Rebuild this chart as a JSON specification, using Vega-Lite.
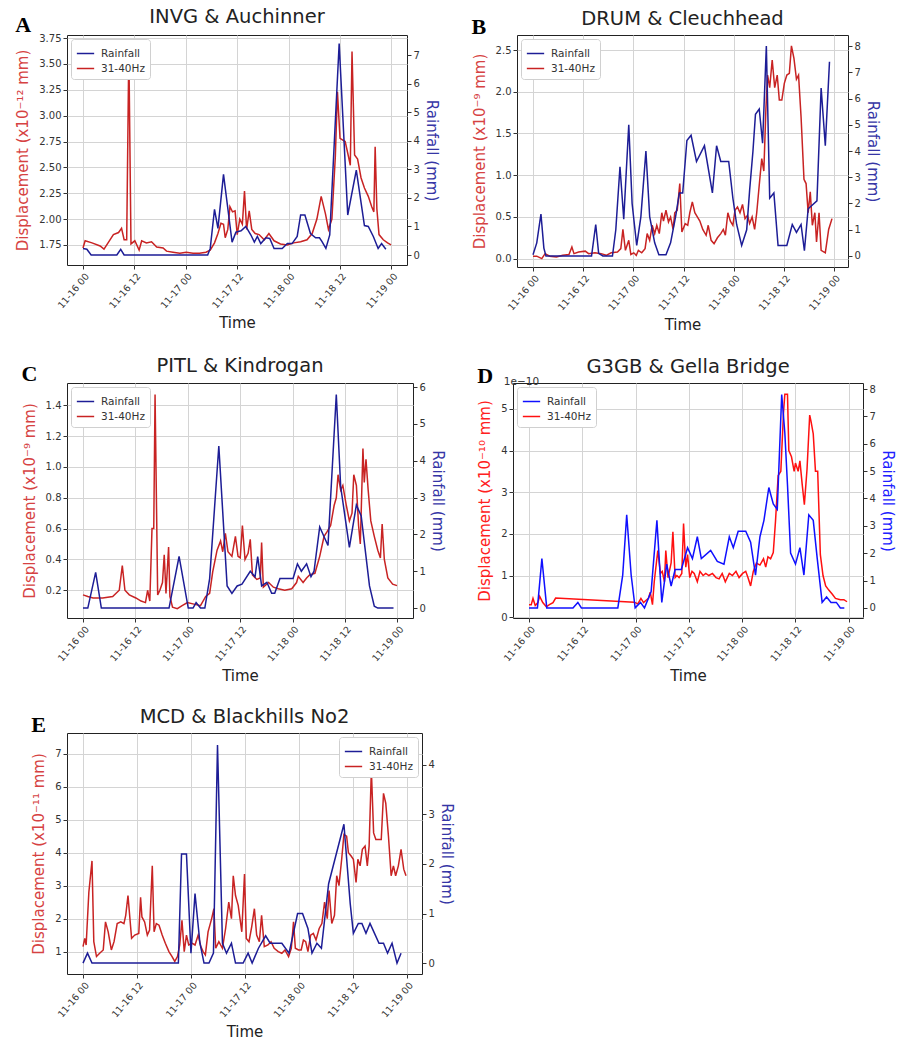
{
"$schema": "https://vega.github.io/schema/vega-lite/v6.json",
"padding": {"left": 15, "top": 6, "right": 4, "bottom": 4},
"background": "white",
"spacing": 21,
"resolve": {"scale": {"color": "independent"}, "legend": {"color": "independent"}},
"config": {
  "font": "DejaVu Sans",
  "view": {"stroke": "#222", "strokeWidth": 1},
  "axis": {"labelFontSize": 10, "labelColor": "#333", "tickColor": "#333", "domain": false, "tickSize": 4, "titleFontSize": 15, "titleFontWeight": "normal", "titleColor": "#222", "gridColor": "#d4d4d4", "labelPadding": 2},
  "axisX": {"labelFontSize": 9.5},
  "title": {"fontSize": 19.5, "fontWeight": "normal", "color": "#222", "offset": 6},
  "legend": {"symbolType": "stroke", "symbolSize": 300, "symbolStrokeWidth": 1.6, "labelFontSize": 10.5, "labelColor": "#333", "strokeColor": "#d0d0d0", "fillColor": "white", "padding": 5, "cornerRadius": 3, "rowPadding": 0, "labelOffset": 6, "offset": 4},
  "line": {"strokeWidth": 1.5}
},
"vconcat": [
{"hconcat": [
 {"title": {"text": "A", "anchor": "start", "frame": "bounds", "font": "Liberation Serif", "fontSize": 22, "fontWeight": "bold", "color": "black", "offset": -31},
  "resolve": {"scale": {"color": "independent"}, "legend": {"color": "independent"}},
  "vconcat": [{
  "width": 340, "height": 230,
  "title": "INVG & Auchinner",
  "encoding": {"x": {"field": "t", "type": "temporal", "scale": {"padding": 16, "nice": false}, "axis": {"title": "Time", "format": "%m-%d %H", "tickCount": 7, "labelAngle": -50, "labelAlign": "right", "labelBaseline": "top", "labelFlush": false, "grid": true, "titlePadding": 6}}},
  "layer": [
   {"data": {"format": {"parse": {"t": "date:'%m-%d %H:%M'"}}, "values": [
{"t":"11-16 00:00","v":1.72},{"t":"11-16 00:30","v":1.79},{"t":"11-16 02:06","v":1.77},{"t":"11-16 04:00","v":1.74},{"t":"11-16 04:54","v":1.71},{"t":"11-16 06:00","v":1.78},{"t":"11-16 07:06","v":1.85},{"t":"11-16 08:18","v":1.87},{"t":"11-16 09:00","v":1.91},{"t":"11-16 09:36","v":1.80},{"t":"11-16 10:12","v":1.80},{"t":"11-16 10:42","v":3.65},{"t":"11-16 11:12","v":1.76},{"t":"11-16 12:06","v":1.79},{"t":"11-16 13:06","v":1.70},{"t":"11-16 13:42","v":1.79},{"t":"11-16 14:48","v":1.77},{"t":"11-16 16:00","v":1.78},{"t":"11-16 17:12","v":1.73},{"t":"11-16 18:42","v":1.72},{"t":"11-16 19:30","v":1.69},{"t":"11-16 21:00","v":1.68},{"t":"11-16 22:36","v":1.67},{"t":"11-17 00:06","v":1.68},{"t":"11-17 01:42","v":1.67},{"t":"11-17 03:12","v":1.67},{"t":"11-17 04:42","v":1.68},{"t":"11-17 05:42","v":1.70},{"t":"11-17 06:42","v":1.77},{"t":"11-17 07:30","v":1.86},{"t":"11-17 08:12","v":1.96},{"t":"11-17 08:48","v":1.95},{"t":"11-17 09:12","v":1.82},{"t":"11-17 09:48","v":1.90},{"t":"11-17 10:18","v":2.12},{"t":"11-17 10:54","v":2.07},{"t":"11-17 11:30","v":2.08},{"t":"11-17 12:00","v":1.85},{"t":"11-17 12:36","v":2.00},{"t":"11-17 13:12","v":1.95},{"t":"11-17 13:42","v":2.27},{"t":"11-17 14:12","v":1.90},{"t":"11-17 14:48","v":2.08},{"t":"11-17 15:24","v":1.90},{"t":"11-17 16:12","v":1.86},{"t":"11-17 17:06","v":1.85},{"t":"11-17 18:18","v":1.80},{"t":"11-17 19:24","v":1.86},{"t":"11-17 20:36","v":1.79},{"t":"11-17 22:06","v":1.76},{"t":"11-17 23:42","v":1.75},{"t":"11-18 01:12","v":1.77},{"t":"11-18 02:48","v":1.78},{"t":"11-18 04:18","v":1.80},{"t":"11-18 05:30","v":1.86},{"t":"11-18 06:36","v":2.00},{"t":"11-18 07:36","v":2.22},{"t":"11-18 08:36","v":2.05},{"t":"11-18 09:18","v":1.90},{"t":"11-18 10:06","v":2.00},{"t":"11-18 10:54","v":2.60},{"t":"11-18 11:24","v":3.23},{"t":"11-18 12:00","v":2.78},{"t":"11-18 13:12","v":2.75},{"t":"11-18 14:00","v":2.60},{"t":"11-18 14:24","v":2.52},{"t":"11-18 14:48","v":3.62},{"t":"11-18 15:24","v":2.62},{"t":"11-18 16:06","v":2.58},{"t":"11-18 16:54","v":2.40},{"t":"11-18 17:42","v":2.30},{"t":"11-18 18:36","v":2.22},{"t":"11-18 19:24","v":2.12},{"t":"11-18 19:54","v":2.07},{"t":"11-18 20:12","v":2.70},{"t":"11-18 20:36","v":2.10},{"t":"11-18 21:06","v":1.85},{"t":"11-18 22:06","v":1.80},{"t":"11-18 23:06","v":1.77},{"t":"11-18 23:54","v":1.75}
    ]},
    "mark": {"type": "line"},
    "encoding": {
     "y": {"field": "v", "type": "quantitative", "scale": {"domain": [1.556, 3.78], "zero": false, "nice": false}, "axis": {"orient": "left", "title": "Displacement (x10⁻¹² mm)", "titleColor": "#d64242", "values": [1.75, 2, 2.25, 2.5, 2.75, 3, 3.25, 3.5, 3.75], "format": ".2f", "grid": true, "titlePadding": 8}},
     "color": {"datum": "31-40Hz", "type": "nominal", "scale": {"domain": ["Rainfall", "31-40Hz"], "range": ["#1d1d96", "#c82323"]}, "legend": {"title": null, "orient": "top-left"}}
    }},
   {"data": {"format": {"parse": {"t": "date:'%m-%d %H:%M'"}}, "values": [
{"t":"11-16 00:00","v":0.23},{"t":"11-16 00:54","v":0.2},{"t":"11-16 01:54","v":0},{"t":"11-16 07:54","v":0},{"t":"11-16 08:48","v":0.2},{"t":"11-16 09:36","v":0},{"t":"11-17 05:06","v":0},{"t":"11-17 05:42","v":0.23},{"t":"11-17 06:42","v":1.6},{"t":"11-17 07:30","v":0.93},{"t":"11-17 08:48","v":2.82},{"t":"11-17 10:00","v":1.4},{"t":"11-17 10:48","v":0.45},{"t":"11-17 11:42","v":0.8},{"t":"11-17 12:54","v":0.85},{"t":"11-17 14:00","v":1.0},{"t":"11-17 15:12","v":0.7},{"t":"11-17 16:00","v":0.45},{"t":"11-17 16:42","v":0.65},{"t":"11-17 17:30","v":0.4},{"t":"11-17 18:42","v":0.6},{"t":"11-17 19:36","v":0.58},{"t":"11-17 20:36","v":0.23},{"t":"11-17 22:30","v":0.23},{"t":"11-17 23:42","v":0.4},{"t":"11-18 00:48","v":0.4},{"t":"11-18 02:00","v":0.65},{"t":"11-18 02:48","v":1.4},{"t":"11-18 03:48","v":1.4},{"t":"11-18 05:06","v":0.75},{"t":"11-18 06:18","v":0.6},{"t":"11-18 07:12","v":0.6},{"t":"11-18 07:48","v":0.47},{"t":"11-18 08:42","v":0.23},{"t":"11-18 09:36","v":0.7},{"t":"11-18 11:48","v":7.4},{"t":"11-18 13:48","v":1.4},{"t":"11-18 15:48","v":2.97},{"t":"11-18 17:42","v":1.03},{"t":"11-18 18:36","v":1.0},{"t":"11-18 19:48","v":0.64},{"t":"11-18 20:54","v":0.23},{"t":"11-18 21:42","v":0.4},{"t":"11-18 22:42","v":0.2}
    ]},
    "mark": {"type": "line"},
    "encoding": {
     "y": {"field": "v", "type": "quantitative", "scale": {"domain": [-0.35, 7.7], "zero": false, "nice": false}, "axis": {"orient": "right", "title": "Rainfall (mm)", "titleColor": "#3636a6", "values": [0, 1, 2, 3, 4, 5, 6, 7], "grid": false, "titlePadding": 4}},
     "color": {"datum": "Rainfall", "type": "nominal", "scale": {"domain": ["Rainfall", "31-40Hz"], "range": ["#1d1d96", "#c82323"]}, "legend": {"title": null, "orient": "top-left"}}
    }}
  ],
  "resolve": {"scale": {"y": "independent"}}
 }]},
 {"title": {"text": "B", "anchor": "start", "frame": "bounds", "font": "Liberation Serif", "fontSize": 22, "fontWeight": "bold", "color": "black", "offset": -31},
  "resolve": {"scale": {"color": "independent"}, "legend": {"color": "independent"}},
  "vconcat": [{
  "width": 331, "height": 232,
  "title": "DRUM & Cleuchhead",
  "encoding": {"x": {"field": "t", "type": "temporal", "scale": {"padding": 16, "nice": false}, "axis": {"title": "Time", "format": "%m-%d %H", "tickCount": 7, "labelAngle": -50, "labelAlign": "right", "labelBaseline": "top", "labelFlush": false, "grid": true, "titlePadding": 6}}},
  "layer": [
   {"data": {"format": {"parse": {"t": "date:'%m-%d %H:%M'"}}, "values": [
{"t":"11-16 00:00","v":0.03},{"t":"11-16 00:54","v":0.03},{"t":"11-16 02:06","v":0.0},{"t":"11-16 02:54","v":0.06},{"t":"11-16 04:00","v":0.03},{"t":"11-16 05:36","v":0.02},{"t":"11-16 07:06","v":0.04},{"t":"11-16 08:36","v":0.05},{"t":"11-16 09:18","v":0.14},{"t":"11-16 09:48","v":0.06},{"t":"11-16 10:54","v":0.08},{"t":"11-16 12:30","v":0.09},{"t":"11-16 13:18","v":0.06},{"t":"11-16 14:48","v":0.07},{"t":"11-16 16:18","v":0.06},{"t":"11-16 17:30","v":0.04},{"t":"11-16 18:42","v":0.07},{"t":"11-16 20:12","v":0.08},{"t":"11-16 21:00","v":0.12},{"t":"11-16 21:30","v":0.35},{"t":"11-16 22:06","v":0.10},{"t":"11-16 22:54","v":0.22},{"t":"11-16 23:24","v":0.05},{"t":"11-17 00:06","v":0.07},{"t":"11-17 00:42","v":0.04},{"t":"11-17 01:12","v":0.10},{"t":"11-17 02:00","v":0.07},{"t":"11-17 02:48","v":0.12},{"t":"11-17 03:18","v":0.30},{"t":"11-17 03:54","v":0.22},{"t":"11-17 04:30","v":0.40},{"t":"11-17 05:06","v":0.30},{"t":"11-17 05:36","v":0.40},{"t":"11-17 06:12","v":0.30},{"t":"11-17 06:48","v":0.55},{"t":"11-17 07:12","v":0.45},{"t":"11-17 07:48","v":0.58},{"t":"11-17 08:24","v":0.44},{"t":"11-17 08:54","v":0.50},{"t":"11-17 09:30","v":0.35},{"t":"11-17 09:54","v":0.55},{"t":"11-17 10:30","v":0.58},{"t":"11-17 11:06","v":0.90},{"t":"11-17 11:36","v":0.32},{"t":"11-17 12:24","v":0.42},{"t":"11-17 13:00","v":0.40},{"t":"11-17 13:30","v":0.55},{"t":"11-17 14:06","v":0.68},{"t":"11-17 14:42","v":0.55},{"t":"11-17 15:18","v":0.50},{"t":"11-17 15:54","v":0.45},{"t":"11-17 16:36","v":0.35},{"t":"11-17 17:24","v":0.28},{"t":"11-17 17:54","v":0.40},{"t":"11-17 18:36","v":0.22},{"t":"11-17 19:18","v":0.18},{"t":"11-17 20:06","v":0.25},{"t":"11-17 20:54","v":0.30},{"t":"11-17 21:30","v":0.35},{"t":"11-17 22:00","v":0.28},{"t":"11-17 22:36","v":0.55},{"t":"11-17 23:12","v":0.45},{"t":"11-17 23:48","v":0.40},{"t":"11-18 00:18","v":0.58},{"t":"11-18 00:54","v":0.62},{"t":"11-18 01:30","v":0.55},{"t":"11-18 02:06","v":0.65},{"t":"11-18 02:42","v":0.48},{"t":"11-18 03:18","v":0.52},{"t":"11-18 03:48","v":0.42},{"t":"11-18 04:24","v":0.50},{"t":"11-18 05:00","v":0.35},{"t":"11-18 05:30","v":0.55},{"t":"11-18 06:06","v":0.88},{"t":"11-18 06:42","v":1.20},{"t":"11-18 07:12","v":1.05},{"t":"11-18 07:42","v":1.80},{"t":"11-18 08:06","v":2.20},{"t":"11-18 08:36","v":2.05},{"t":"11-18 09:12","v":2.38},{"t":"11-18 09:48","v":2.05},{"t":"11-18 10:24","v":2.20},{"t":"11-18 10:54","v":1.90},{"t":"11-18 11:30","v":1.90},{"t":"11-18 12:06","v":2.10},{"t":"11-18 12:42","v":2.20},{"t":"11-18 13:18","v":2.22},{"t":"11-18 13:48","v":2.55},{"t":"11-18 14:24","v":2.40},{"t":"11-18 15:00","v":2.15},{"t":"11-18 15:30","v":2.20},{"t":"11-18 16:06","v":1.70},{"t":"11-18 16:48","v":0.95},{"t":"11-18 17:18","v":0.90},{"t":"11-18 17:48","v":0.55},{"t":"11-18 18:18","v":0.80},{"t":"11-18 18:48","v":0.40},{"t":"11-18 19:24","v":0.55},{"t":"11-18 19:48","v":0.20},{"t":"11-18 20:24","v":0.55},{"t":"11-18 20:54","v":0.10},{"t":"11-18 21:54","v":0.07},{"t":"11-18 22:42","v":0.35},{"t":"11-18 23:30","v":0.48}
    ]},
    "mark": {"type": "line"},
    "encoding": {
     "y": {"field": "v", "type": "quantitative", "scale": {"domain": [-0.1, 2.68], "zero": false, "nice": false}, "axis": {"orient": "left", "title": "Displacement (x10⁻⁹ mm)", "titleColor": "#d64242", "values": [0, 0.5, 1, 1.5, 2, 2.5], "format": ".1f", "grid": true, "titlePadding": 8}},
     "color": {"datum": "31-40Hz", "type": "nominal", "scale": {"domain": ["Rainfall", "31-40Hz"], "range": ["#1d1d96", "#c82323"]}, "legend": {"title": null, "orient": "top-left"}}
    }},
   {"data": {"format": {"parse": {"t": "date:'%m-%d %H:%M'"}}, "values": [
{"t":"11-16 00:00","v":0.05},{"t":"11-16 00:54","v":0.5},{"t":"11-16 01:54","v":1.6},{"t":"11-16 02:36","v":0.3},{"t":"11-16 03:06","v":0},{"t":"11-16 14:00","v":0},{"t":"11-16 15:00","v":1.2},{"t":"11-16 15:42","v":0.1},{"t":"11-16 16:42","v":0},{"t":"11-16 19:00","v":0},{"t":"11-16 19:48","v":1.0},{"t":"11-16 20:48","v":3.4},{"t":"11-16 21:42","v":1.4},{"t":"11-16 22:54","v":5.0},{"t":"11-16 23:42","v":2.0},{"t":"11-17 00:48","v":0.4},{"t":"11-17 01:48","v":1.5},{"t":"11-17 03:00","v":4.0},{"t":"11-17 03:54","v":1.5},{"t":"11-17 05:06","v":0.5},{"t":"11-17 06:06","v":0.05},{"t":"11-17 07:48","v":0.05},{"t":"11-17 08:54","v":0.5},{"t":"11-17 10:06","v":1.5},{"t":"11-17 11:00","v":2.4},{"t":"11-17 11:48","v":2.4},{"t":"11-17 12:48","v":4.4},{"t":"11-17 13:48","v":4.6},{"t":"11-17 15:06","v":3.6},{"t":"11-17 17:00","v":4.2},{"t":"11-17 18:54","v":2.4},{"t":"11-17 19:54","v":4.2},{"t":"11-17 20:54","v":3.6},{"t":"11-17 22:48","v":3.6},{"t":"11-17 23:48","v":2.2},{"t":"11-18 00:42","v":1.2},{"t":"11-18 01:54","v":0.4},{"t":"11-18 03:06","v":1.0},{"t":"11-18 03:48","v":2.5},{"t":"11-18 04:36","v":4.0},{"t":"11-18 05:12","v":5.4},{"t":"11-18 06:06","v":5.6},{"t":"11-18 06:54","v":4.3},{"t":"11-18 07:48","v":8.0},{"t":"11-18 08:36","v":2.2},{"t":"11-18 09:36","v":2.4},{"t":"11-18 10:36","v":0.4},{"t":"11-18 12:42","v":0.4},{"t":"11-18 14:00","v":1.2},{"t":"11-18 15:00","v":0.9},{"t":"11-18 16:06","v":1.2},{"t":"11-18 16:54","v":0.2},{"t":"11-18 17:48","v":1.8},{"t":"11-18 19:54","v":2.1},{"t":"11-18 20:54","v":6.4},{"t":"11-18 21:54","v":4.2},{"t":"11-18 22:54","v":7.4}
    ]},
    "mark": {"type": "line"},
    "encoding": {
     "y": {"field": "v", "type": "quantitative", "scale": {"domain": [-0.42, 8.42], "zero": false, "nice": false}, "axis": {"orient": "right", "title": "Rainfall (mm)", "titleColor": "#3636a6", "values": [0, 1, 2, 3, 4, 5, 6, 7, 8], "grid": false, "titlePadding": 4}},
     "color": {"datum": "Rainfall", "type": "nominal", "scale": {"domain": ["Rainfall", "31-40Hz"], "range": ["#1d1d96", "#c82323"]}, "legend": {"title": null, "orient": "top-left"}}
    }}
  ],
  "resolve": {"scale": {"y": "independent"}}
 }]}
], "spacing": 32, "resolve": {"scale": {"color": "independent"}, "legend": {"color": "independent"}}},
{"hconcat": [
 {"title": {"text": "C", "anchor": "start", "frame": "bounds", "font": "Liberation Serif", "fontSize": 22, "fontWeight": "bold", "color": "black", "offset": -31},
  "resolve": {"scale": {"color": "independent"}, "legend": {"color": "independent"}},
  "vconcat": [{
  "width": 346, "height": 235,
  "title": "PITL & Kindrogan",
  "encoding": {"x": {"field": "t", "type": "temporal", "scale": {"padding": 16, "nice": false}, "axis": {"title": "Time", "format": "%m-%d %H", "tickCount": 7, "labelAngle": -50, "labelAlign": "right", "labelBaseline": "top", "labelFlush": false, "grid": true, "titlePadding": 6}}},
  "layer": [
   {"data": {"format": {"parse": {"t": "date:'%m-%d %H:%M'"}}, "values": [
{"t":"11-16 00:00","v":0.17},{"t":"11-16 01:06","v":0.16},{"t":"11-16 02:18","v":0.15},{"t":"11-16 04:30","v":0.15},{"t":"11-16 06:48","v":0.16},{"t":"11-16 08:18","v":0.20},{"t":"11-16 09:00","v":0.36},{"t":"11-16 09:36","v":0.20},{"t":"11-16 10:36","v":0.17},{"t":"11-16 12:06","v":0.15},{"t":"11-16 13:18","v":0.13},{"t":"11-16 14:18","v":0.12},{"t":"11-16 14:48","v":0.20},{"t":"11-16 15:18","v":0.13},{"t":"11-16 15:48","v":0.60},{"t":"11-16 16:12","v":0.60},{"t":"11-16 16:30","v":1.47},{"t":"11-16 17:06","v":0.17},{"t":"11-16 17:36","v":0.20},{"t":"11-16 18:12","v":0.25},{"t":"11-16 18:36","v":0.43},{"t":"11-16 19:00","v":0.18},{"t":"11-16 19:36","v":0.48},{"t":"11-16 19:54","v":0.16},{"t":"11-16 20:30","v":0.09},{"t":"11-16 21:36","v":0.08},{"t":"11-16 22:42","v":0.10},{"t":"11-16 23:54","v":0.12},{"t":"11-17 01:24","v":0.11},{"t":"11-17 02:54","v":0.10},{"t":"11-17 04:06","v":0.16},{"t":"11-17 05:00","v":0.18},{"t":"11-17 05:42","v":0.32},{"t":"11-17 06:42","v":0.46},{"t":"11-17 07:30","v":0.52},{"t":"11-17 08:00","v":0.45},{"t":"11-17 08:36","v":0.57},{"t":"11-17 09:12","v":0.45},{"t":"11-17 10:06","v":0.42},{"t":"11-17 10:54","v":0.55},{"t":"11-17 11:30","v":0.42},{"t":"11-17 12:00","v":0.41},{"t":"11-17 12:30","v":0.62},{"t":"11-17 13:06","v":0.40},{"t":"11-17 13:48","v":0.44},{"t":"11-17 14:18","v":0.53},{"t":"11-17 14:48","v":0.30},{"t":"11-17 15:48","v":0.27},{"t":"11-17 16:36","v":0.28},{"t":"11-17 16:54","v":0.51},{"t":"11-17 17:18","v":0.22},{"t":"11-17 18:30","v":0.25},{"t":"11-17 19:36","v":0.22},{"t":"11-17 20:42","v":0.21},{"t":"11-17 22:12","v":0.20},{"t":"11-17 23:48","v":0.21},{"t":"11-18 00:54","v":0.25},{"t":"11-18 01:18","v":0.29},{"t":"11-18 02:24","v":0.25},{"t":"11-18 03:12","v":0.28},{"t":"11-18 03:54","v":0.30},{"t":"11-18 05:06","v":0.31},{"t":"11-18 06:12","v":0.42},{"t":"11-18 07:12","v":0.55},{"t":"11-18 07:54","v":0.58},{"t":"11-18 08:42","v":0.62},{"t":"11-18 09:30","v":0.75},{"t":"11-18 10:00","v":0.80},{"t":"11-18 10:24","v":0.95},{"t":"11-18 11:00","v":0.85},{"t":"11-18 11:30","v":0.88},{"t":"11-18 12:18","v":0.75},{"t":"11-18 13:00","v":0.65},{"t":"11-18 13:36","v":0.70},{"t":"11-18 14:00","v":0.95},{"t":"11-18 14:36","v":0.88},{"t":"11-18 15:06","v":0.62},{"t":"11-18 15:30","v":0.50},{"t":"11-18 16:06","v":1.12},{"t":"11-18 16:24","v":0.90},{"t":"11-18 16:48","v":1.05},{"t":"11-18 17:18","v":0.85},{"t":"11-18 17:54","v":0.65},{"t":"11-18 18:42","v":0.55},{"t":"11-18 19:30","v":0.46},{"t":"11-18 20:06","v":0.41},{"t":"11-18 20:30","v":0.63},{"t":"11-18 21:00","v":0.40},{"t":"11-18 21:48","v":0.28},{"t":"11-18 22:54","v":0.24},{"t":"11-18 23:54","v":0.23}
    ]},
    "mark": {"type": "line"},
    "encoding": {
     "y": {"field": "v", "type": "quantitative", "scale": {"domain": [0.02, 1.545], "zero": false, "nice": false}, "axis": {"orient": "left", "title": "Displacement (x10⁻⁹ mm)", "titleColor": "#d64242", "values": [0.2, 0.4, 0.6, 0.8, 1.0, 1.2, 1.4], "format": ".1f", "grid": true, "titlePadding": 8}},
     "color": {"datum": "31-40Hz", "type": "nominal", "scale": {"domain": ["Rainfall", "31-40Hz"], "range": ["#1d1d96", "#c82323"]}, "legend": {"title": null, "orient": "top-left"}}
    }},
   {"data": {"format": {"parse": {"t": "date:'%m-%d %H:%M'"}}, "values": [
{"t":"11-16 00:00","v":0},{"t":"11-16 01:06","v":0},{"t":"11-16 02:54","v":0.97},{"t":"11-16 04:12","v":0},{"t":"11-16 19:42","v":0},{"t":"11-16 22:00","v":1.4},{"t":"11-17 00:06","v":0},{"t":"11-17 01:12","v":0},{"t":"11-17 01:54","v":0.15},{"t":"11-17 02:54","v":0},{"t":"11-17 03:54","v":0},{"t":"11-17 05:00","v":0.8},{"t":"11-17 07:06","v":4.4},{"t":"11-17 09:00","v":0.6},{"t":"11-17 10:06","v":0.4},{"t":"11-17 11:18","v":0.6},{"t":"11-17 12:24","v":0.65},{"t":"11-17 14:18","v":1.0},{"t":"11-17 15:24","v":0.85},{"t":"11-17 16:00","v":1.4},{"t":"11-17 16:54","v":0.6},{"t":"11-17 18:06","v":0.7},{"t":"11-17 19:12","v":0.4},{"t":"11-17 19:54","v":0.4},{"t":"11-17 21:06","v":0.8},{"t":"11-18 00:06","v":0.8},{"t":"11-18 01:06","v":1.2},{"t":"11-18 02:00","v":1.0},{"t":"11-18 03:12","v":1.2},{"t":"11-18 04:12","v":0.85},{"t":"11-18 04:54","v":1.0},{"t":"11-18 06:12","v":2.2},{"t":"11-18 08:06","v":1.7},{"t":"11-18 10:00","v":5.8},{"t":"11-18 11:00","v":3.3},{"t":"11-18 13:00","v":1.65},{"t":"11-18 14:36","v":2.8},{"t":"11-18 15:42","v":2.5},{"t":"11-18 17:36","v":0.6},{"t":"11-18 18:42","v":0.05},{"t":"11-18 19:30","v":0},{"t":"11-18 23:06","v":0}
    ]},
    "mark": {"type": "line"},
    "encoding": {
     "y": {"field": "v", "type": "quantitative", "scale": {"domain": [-0.27, 6.11], "zero": false, "nice": false}, "axis": {"orient": "right", "title": "Rainfall (mm)", "titleColor": "#3636a6", "values": [0, 1, 2, 3, 4, 5, 6], "grid": false, "titlePadding": 4}},
     "color": {"datum": "Rainfall", "type": "nominal", "scale": {"domain": ["Rainfall", "31-40Hz"], "range": ["#1d1d96", "#c82323"]}, "legend": {"title": null, "orient": "top-left"}}
    }}
  ],
  "resolve": {"scale": {"y": "independent"}}
 }]},
 {"title": {"text": "D", "subtitle": "\u200b\u00a0\u00a0\u00a0\u00a0\u00a0\u00a0\u00a0\u00a01e−10", "subtitleFontSize": 10.5, "subtitleColor": "#333", "subtitleFont": "DejaVu Sans", "subtitlePadding": -11, "anchor": "start", "frame": "bounds", "font": "Liberation Serif", "fontSize": 22, "fontWeight": "bold", "color": "black", "offset": -32},
  "resolve": {"scale": {"color": "independent"}, "legend": {"color": "independent"}},
  "vconcat": [{
  "width": 350, "height": 235,
  "title": "G3GB & Gella Bridge",
  "encoding": {"x": {"field": "t", "type": "temporal", "scale": {"padding": 16, "nice": false}, "axis": {"title": "Time", "format": "%m-%d %H", "tickCount": 7, "labelAngle": -50, "labelAlign": "right", "labelBaseline": "top", "labelFlush": false, "grid": true, "titlePadding": 6}}},
  "layer": [
   {"data": {"format": {"parse": {"t": "date:'%m-%d %H:%M'"}}, "values": [
{"t":"11-16 00:00","v":0.30},{"t":"11-16 00:30","v":0.30},{"t":"11-16 00:54","v":0.45},{"t":"11-16 01:24","v":0.28},{"t":"11-16 02:00","v":0.35},{"t":"11-16 02:24","v":0.50},{"t":"11-16 03:06","v":0.35},{"t":"11-16 03:54","v":0.25},{"t":"11-16 04:36","v":0.30},{"t":"11-16 05:24","v":0.35},{"t":"11-16 06:00","v":0.46},{"t":"11-16 23:42","v":0.36},{"t":"11-17 00:30","v":0.32},{"t":"11-17 01:12","v":0.45},{"t":"11-17 01:48","v":0.35},{"t":"11-17 02:18","v":0.40},{"t":"11-17 02:54","v":0.45},{"t":"11-17 03:18","v":0.60},{"t":"11-17 03:48","v":0.30},{"t":"11-17 04:12","v":0.85},{"t":"11-17 05:00","v":1.60},{"t":"11-17 05:36","v":1.05},{"t":"11-17 06:00","v":1.10},{"t":"11-17 06:30","v":0.85},{"t":"11-17 06:48","v":1.60},{"t":"11-17 07:18","v":0.95},{"t":"11-17 08:00","v":1.30},{"t":"11-17 08:24","v":2.05},{"t":"11-17 08:54","v":0.95},{"t":"11-17 09:18","v":1.00},{"t":"11-17 09:48","v":0.95},{"t":"11-17 10:24","v":1.05},{"t":"11-17 10:48","v":2.25},{"t":"11-17 11:18","v":1.20},{"t":"11-17 11:42","v":1.50},{"t":"11-17 12:12","v":0.95},{"t":"11-17 12:42","v":1.10},{"t":"11-17 13:12","v":1.05},{"t":"11-17 13:54","v":0.85},{"t":"11-17 14:30","v":1.10},{"t":"11-17 15:12","v":1.00},{"t":"11-17 15:48","v":1.05},{"t":"11-17 16:30","v":1.00},{"t":"11-17 17:18","v":1.05},{"t":"11-17 18:06","v":0.95},{"t":"11-17 18:48","v":0.92},{"t":"11-17 19:30","v":1.05},{"t":"11-17 20:12","v":0.85},{"t":"11-17 21:06","v":1.05},{"t":"11-17 21:48","v":1.00},{"t":"11-17 22:36","v":1.10},{"t":"11-17 23:18","v":0.95},{"t":"11-18 00:06","v":1.05},{"t":"11-18 00:48","v":1.10},{"t":"11-18 01:18","v":0.95},{"t":"11-18 01:54","v":0.75},{"t":"11-18 02:30","v":1.10},{"t":"11-18 03:12","v":1.30},{"t":"11-18 04:00","v":1.25},{"t":"11-18 04:48","v":1.40},{"t":"11-18 05:18","v":1.20},{"t":"11-18 05:48","v":1.45},{"t":"11-18 06:24","v":1.40},{"t":"11-18 07:00","v":1.55},{"t":"11-18 07:30","v":2.30},{"t":"11-18 08:06","v":3.40},{"t":"11-18 08:42","v":3.50},{"t":"11-18 09:18","v":4.90},{"t":"11-18 09:36","v":5.35},{"t":"11-18 10:12","v":5.35},{"t":"11-18 10:30","v":4.00},{"t":"11-18 11:06","v":3.85},{"t":"11-18 11:42","v":3.50},{"t":"11-18 12:00","v":3.70},{"t":"11-18 12:36","v":3.50},{"t":"11-18 13:00","v":3.75},{"t":"11-18 13:30","v":3.20},{"t":"11-18 14:00","v":2.70},{"t":"11-18 14:36","v":3.55},{"t":"11-18 15:12","v":4.85},{"t":"11-18 15:30","v":4.70},{"t":"11-18 16:00","v":4.40},{"t":"11-18 16:30","v":3.50},{"t":"11-18 17:00","v":3.50},{"t":"11-18 17:36","v":1.50},{"t":"11-18 18:12","v":1.00},{"t":"11-18 18:48","v":0.75},{"t":"11-18 19:30","v":0.65},{"t":"11-18 20:18","v":0.55},{"t":"11-18 21:00","v":0.45},{"t":"11-18 22:06","v":0.42},{"t":"11-18 22:54","v":0.42},{"t":"11-18 23:36","v":0.37}
    ]},
    "mark": {"type": "line"},
    "encoding": {
     "y": {"field": "v", "type": "quantitative", "scale": {"domain": [-0.02, 5.62], "zero": false, "nice": false}, "axis": {"orient": "left", "title": "Displacement (x10⁻¹⁰ mm)", "titleColor": "#ff2020", "values": [0, 1, 2, 3, 4, 5], "format": "d", "grid": true, "titlePadding": 8}},
     "color": {"datum": "31-40Hz", "type": "nominal", "scale": {"domain": ["Rainfall", "31-40Hz"], "range": ["#1010ff", "#ff1010"]}, "legend": {"title": null, "orient": "top-left"}}
    }},
   {"data": {"format": {"parse": {"t": "date:'%m-%d %H:%M'"}}, "values": [
{"t":"11-16 00:00","v":0},{"t":"11-16 01:54","v":0},{"t":"11-16 02:54","v":1.8},{"t":"11-16 04:00","v":0},{"t":"11-16 09:54","v":0},{"t":"11-16 11:00","v":0.2},{"t":"11-16 11:48","v":0},{"t":"11-16 20:00","v":0},{"t":"11-16 21:06","v":1.2},{"t":"11-16 22:00","v":3.4},{"t":"11-16 23:00","v":1.2},{"t":"11-16 23:54","v":0},{"t":"11-17 01:06","v":0.2},{"t":"11-17 02:00","v":0},{"t":"11-17 03:30","v":0.6},{"t":"11-17 04:48","v":3.2},{"t":"11-17 05:54","v":0.2},{"t":"11-17 07:00","v":1.6},{"t":"11-17 08:00","v":0.8},{"t":"11-17 08:54","v":1.4},{"t":"11-17 10:18","v":1.4},{"t":"11-17 11:42","v":2.2},{"t":"11-17 12:48","v":1.8},{"t":"11-17 13:54","v":2.6},{"t":"11-17 14:48","v":1.8},{"t":"11-17 16:54","v":2.1},{"t":"11-17 18:24","v":1.7},{"t":"11-17 19:54","v":1.6},{"t":"11-17 21:06","v":2.6},{"t":"11-17 22:00","v":2.2},{"t":"11-17 23:06","v":2.8},{"t":"11-18 00:48","v":2.8},{"t":"11-18 01:54","v":2.4},{"t":"11-18 03:00","v":1.2},{"t":"11-18 04:00","v":2.6},{"t":"11-18 04:54","v":3.2},{"t":"11-18 06:00","v":4.4},{"t":"11-18 07:00","v":3.8},{"t":"11-18 07:54","v":3.6},{"t":"11-18 08:54","v":7.8},{"t":"11-18 09:36","v":6.4},{"t":"11-18 10:12","v":4.5},{"t":"11-18 10:54","v":2.0},{"t":"11-18 12:00","v":1.6},{"t":"11-18 13:00","v":2.2},{"t":"11-18 13:54","v":1.2},{"t":"11-18 15:00","v":3.4},{"t":"11-18 16:00","v":3.2},{"t":"11-18 16:54","v":1.8},{"t":"11-18 18:00","v":0.2},{"t":"11-18 19:00","v":0.4},{"t":"11-18 20:00","v":0.2},{"t":"11-18 21:12","v":0.2},{"t":"11-18 22:06","v":0},{"t":"11-18 23:00","v":0}
    ]},
    "mark": {"type": "line"},
    "encoding": {
     "y": {"field": "v", "type": "quantitative", "scale": {"domain": [-0.37, 8.22], "zero": false, "nice": false}, "axis": {"orient": "right", "title": "Rainfall (mm)", "titleColor": "#2020ff", "values": [0, 1, 2, 3, 4, 5, 6, 7, 8], "grid": false, "titlePadding": 4}},
     "color": {"datum": "Rainfall", "type": "nominal", "scale": {"domain": ["Rainfall", "31-40Hz"], "range": ["#1010ff", "#ff1010"]}, "legend": {"title": null, "orient": "top-left"}}
    }}
  ],
  "resolve": {"scale": {"y": "independent"}}
 }]}
], "spacing": 32, "resolve": {"scale": {"color": "independent"}, "legend": {"color": "independent"}}},
{"hconcat": [
 {"title": {"text": "E", "anchor": "start", "frame": "bounds", "font": "Liberation Serif", "fontSize": 22, "fontWeight": "bold", "color": "black", "offset": -31},
  "resolve": {"scale": {"color": "independent"}, "legend": {"color": "independent"}},
  "vconcat": [{
  "width": 355, "height": 241,
  "title": "MCD & Blackhills No2",
  "encoding": {"x": {"field": "t", "type": "temporal", "scale": {"padding": 16, "nice": false}, "axis": {"title": "Time", "format": "%m-%d %H", "tickCount": 7, "labelAngle": -50, "labelAlign": "right", "labelBaseline": "top", "labelFlush": false, "grid": true, "titlePadding": 6}}},
  "layer": [
   {"data": {"format": {"parse": {"t": "date:'%m-%d %H:%M'"}}, "values": [
{"t":"11-16 00:00","v":1.15},{"t":"11-16 00:24","v":1.4},{"t":"11-16 00:42","v":1.2},{"t":"11-16 01:18","v":2.8},{"t":"11-16 02:00","v":3.75},{"t":"11-16 02:24","v":1.3},{"t":"11-16 03:00","v":0.85},{"t":"11-16 03:42","v":0.95},{"t":"11-16 04:30","v":1.05},{"t":"11-16 05:00","v":1.9},{"t":"11-16 05:36","v":1.6},{"t":"11-16 06:18","v":1.05},{"t":"11-16 06:54","v":1.3},{"t":"11-16 07:36","v":1.85},{"t":"11-16 08:24","v":1.9},{"t":"11-16 09:06","v":1.85},{"t":"11-16 09:30","v":2.1},{"t":"11-16 10:00","v":2.7},{"t":"11-16 10:48","v":1.4},{"t":"11-16 11:30","v":1.5},{"t":"11-16 12:24","v":1.55},{"t":"11-16 12:48","v":2.65},{"t":"11-16 13:06","v":2.05},{"t":"11-16 13:42","v":1.9},{"t":"11-16 14:18","v":1.5},{"t":"11-16 14:48","v":1.65},{"t":"11-16 15:24","v":3.6},{"t":"11-16 15:48","v":1.6},{"t":"11-16 16:18","v":1.85},{"t":"11-16 16:54","v":1.8},{"t":"11-16 17:36","v":1.5},{"t":"11-16 18:18","v":1.25},{"t":"11-16 19:06","v":1.0},{"t":"11-16 19:48","v":0.85},{"t":"11-16 20:24","v":0.7},{"t":"11-16 21:00","v":0.85},{"t":"11-16 21:30","v":1.2},{"t":"11-16 22:00","v":1.95},{"t":"11-16 22:30","v":1.0},{"t":"11-16 23:00","v":1.5},{"t":"11-16 23:30","v":1.2},{"t":"11-17 00:18","v":1.25},{"t":"11-17 00:54","v":1.2},{"t":"11-17 01:36","v":1.5},{"t":"11-17 02:12","v":1.15},{"t":"11-17 02:42","v":1.0},{"t":"11-17 03:12","v":0.9},{"t":"11-17 03:48","v":1.6},{"t":"11-17 04:36","v":2.0},{"t":"11-17 05:06","v":2.3},{"t":"11-17 05:30","v":1.1},{"t":"11-17 06:12","v":1.3},{"t":"11-17 07:00","v":1.1},{"t":"11-17 07:42","v":1.7},{"t":"11-17 08:24","v":2.5},{"t":"11-17 09:00","v":2.0},{"t":"11-17 09:24","v":3.3},{"t":"11-17 09:54","v":2.7},{"t":"11-17 10:30","v":2.4},{"t":"11-17 11:18","v":1.6},{"t":"11-17 11:54","v":3.35},{"t":"11-17 12:18","v":1.4},{"t":"11-17 12:54","v":1.3},{"t":"11-17 13:30","v":1.75},{"t":"11-17 14:06","v":2.3},{"t":"11-17 14:36","v":1.5},{"t":"11-17 15:12","v":1.3},{"t":"11-17 15:42","v":2.1},{"t":"11-17 16:18","v":1.15},{"t":"11-17 17:06","v":1.2},{"t":"11-17 17:48","v":1.3},{"t":"11-17 18:30","v":1.1},{"t":"11-17 19:24","v":1.0},{"t":"11-17 20:12","v":0.95},{"t":"11-17 20:54","v":1.05},{"t":"11-17 21:42","v":0.85},{"t":"11-17 22:18","v":1.1},{"t":"11-17 22:48","v":1.9},{"t":"11-17 23:12","v":1.1},{"t":"11-17 23:54","v":1.05},{"t":"11-18 00:30","v":1.05},{"t":"11-18 01:00","v":1.35},{"t":"11-18 01:30","v":1.3},{"t":"11-18 02:00","v":1.0},{"t":"11-18 02:36","v":1.5},{"t":"11-18 03:12","v":1.55},{"t":"11-18 03:48","v":1.35},{"t":"11-18 04:30","v":1.7},{"t":"11-18 05:06","v":1.85},{"t":"11-18 05:42","v":2.5},{"t":"11-18 06:18","v":2.0},{"t":"11-18 06:42","v":2.85},{"t":"11-18 07:18","v":1.85},{"t":"11-18 07:54","v":2.1},{"t":"11-18 08:24","v":3.3},{"t":"11-18 08:54","v":3.0},{"t":"11-18 09:30","v":3.8},{"t":"11-18 10:00","v":4.55},{"t":"11-18 10:36","v":4.5},{"t":"11-18 11:00","v":4.0},{"t":"11-18 11:36","v":3.9},{"t":"11-18 12:06","v":3.8},{"t":"11-18 12:42","v":3.1},{"t":"11-18 13:06","v":3.8},{"t":"11-18 13:36","v":3.6},{"t":"11-18 14:06","v":4.1},{"t":"11-18 14:42","v":4.2},{"t":"11-18 15:12","v":3.6},{"t":"11-18 15:36","v":4.2},{"t":"11-18 16:06","v":6.5},{"t":"11-18 16:36","v":4.6},{"t":"11-18 17:06","v":4.4},{"t":"11-18 17:42","v":4.4},{"t":"11-18 18:18","v":4.4},{"t":"11-18 18:48","v":5.8},{"t":"11-18 19:18","v":5.5},{"t":"11-18 19:54","v":4.5},{"t":"11-18 20:30","v":3.3},{"t":"11-18 21:00","v":3.6},{"t":"11-18 21:30","v":3.3},{"t":"11-18 22:06","v":3.6},{"t":"11-18 22:42","v":4.1},{"t":"11-18 23:18","v":3.5},{"t":"11-18 23:48","v":3.3}
    ]},
    "mark": {"type": "line"},
    "encoding": {
     "y": {"field": "v", "type": "quantitative", "scale": {"domain": [0.32, 7.63], "zero": false, "nice": false}, "axis": {"orient": "left", "title": "Displacement (x10⁻¹¹ mm)", "titleColor": "#d64242", "values": [1, 2, 3, 4, 5, 6, 7], "format": "d", "grid": true, "titlePadding": 8}},
     "color": {"datum": "31-40Hz", "type": "nominal", "scale": {"domain": ["Rainfall", "31-40Hz"], "range": ["#1d1d96", "#c82323"]}, "legend": {"title": null, "orient": "top-right"}}
    }},
   {"data": {"format": {"parse": {"t": "date:'%m-%d %H:%M'"}}, "values": [
{"t":"11-16 00:00","v":0},{"t":"11-16 01:00","v":0.2},{"t":"11-16 02:00","v":0},{"t":"11-16 21:12","v":0},{"t":"11-16 21:54","v":2.2},{"t":"11-16 23:00","v":2.2},{"t":"11-17 00:00","v":0.2},{"t":"11-17 00:54","v":1.4},{"t":"11-17 02:00","v":0.4},{"t":"11-17 02:54","v":0},{"t":"11-17 04:00","v":0},{"t":"11-17 05:00","v":0.2},{"t":"11-17 05:54","v":4.4},{"t":"11-17 07:00","v":0.4},{"t":"11-17 07:54","v":0.2},{"t":"11-17 09:00","v":0.4},{"t":"11-17 09:54","v":0},{"t":"11-17 11:36","v":0},{"t":"11-17 12:42","v":0.2},{"t":"11-17 13:36","v":0},{"t":"11-17 15:00","v":0.3},{"t":"11-17 16:36","v":0.55},{"t":"11-17 17:36","v":0.4},{"t":"11-17 20:12","v":0.4},{"t":"11-17 21:48","v":0.2},{"t":"11-17 23:00","v":0.7},{"t":"11-17 23:42","v":1.0},{"t":"11-18 00:48","v":1.0},{"t":"11-18 02:00","v":0.7},{"t":"11-18 02:54","v":0.2},{"t":"11-18 04:00","v":0.4},{"t":"11-18 05:00","v":0.3},{"t":"11-18 06:36","v":1.6},{"t":"11-18 10:00","v":2.8},{"t":"11-18 11:24","v":1.2},{"t":"11-18 12:06","v":0.6},{"t":"11-18 13:12","v":0.8},{"t":"11-18 14:00","v":0.8},{"t":"11-18 14:54","v":0.6},{"t":"11-18 15:48","v":0.8},{"t":"11-18 16:48","v":0.6},{"t":"11-18 17:48","v":0.4},{"t":"11-18 18:48","v":0.4},{"t":"11-18 19:42","v":0.2},{"t":"11-18 20:42","v":0.4},{"t":"11-18 21:48","v":0},{"t":"11-18 22:42","v":0.2}
    ]},
    "mark": {"type": "line"},
    "encoding": {
     "y": {"field": "v", "type": "quantitative", "scale": {"domain": [-0.22, 4.64], "zero": false, "nice": false}, "axis": {"orient": "right", "title": "Rainfall (mm)", "titleColor": "#3636a6", "values": [0, 1, 2, 3, 4], "grid": false, "titlePadding": 4}},
     "color": {"datum": "Rainfall", "type": "nominal", "scale": {"domain": ["Rainfall", "31-40Hz"], "range": ["#1d1d96", "#c82323"]}, "legend": {"title": null, "orient": "top-right"}}
    }}
  ],
  "resolve": {"scale": {"y": "independent"}}
 }]}
], "resolve": {"scale": {"color": "independent"}, "legend": {"color": "independent"}}}
]
}
